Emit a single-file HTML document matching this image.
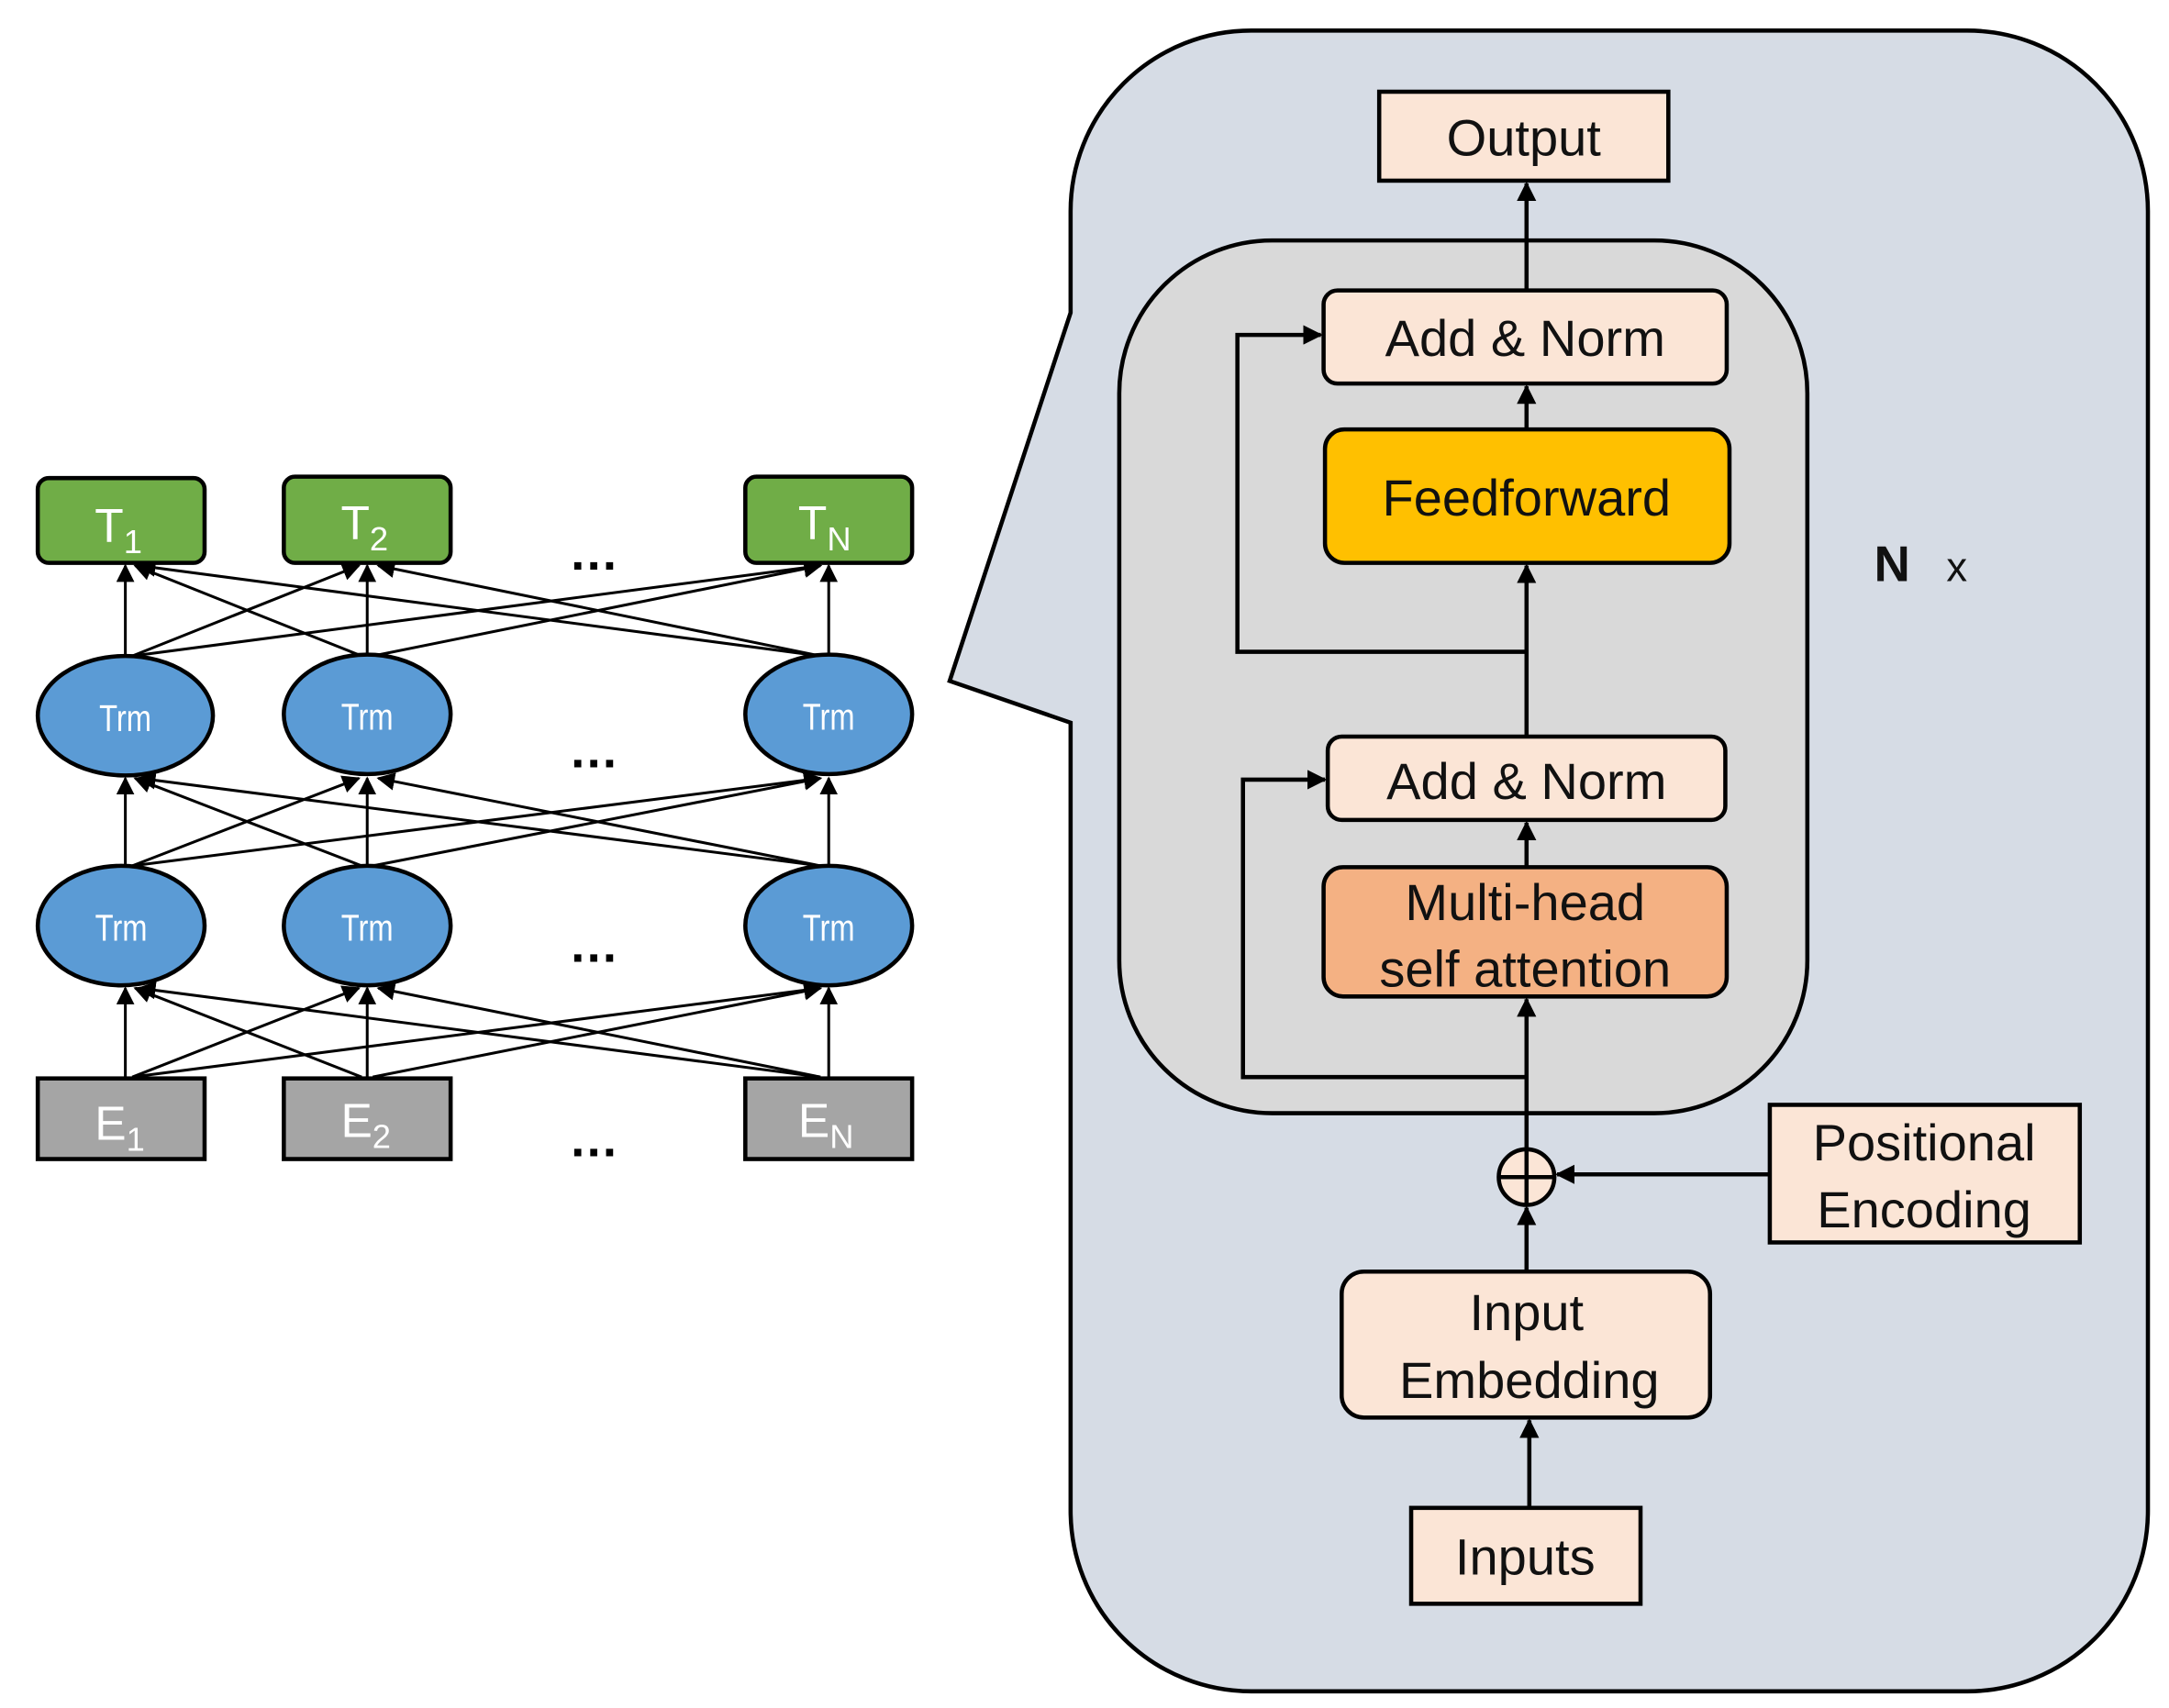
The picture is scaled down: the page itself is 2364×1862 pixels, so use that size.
<!DOCTYPE html>
<html><head><meta charset="utf-8"><style>
html,body{margin:0;padding:0;background:#fff;}
svg{display:block;}
text{font-family:"Liberation Sans",sans-serif;}
</style></head><body>
<svg width="2364" height="1862" viewBox="0 0 1560 1229" xmlns="http://www.w3.org/2000/svg">
<defs>
<marker id="a" viewBox="0 0 10 10" refX="9" refY="5" markerWidth="13" markerHeight="13" markerUnits="userSpaceOnUse" orient="auto"><path d="M0,0 L10,5 L0,10 z" fill="#000"/></marker>
<marker id="b" viewBox="0 0 10 10" refX="9" refY="5" markerWidth="14" markerHeight="14" markerUnits="userSpaceOnUse" orient="auto"><path d="M0,0 L10,5 L0,10 z" fill="#000"/></marker>
</defs>
<!-- outer callout -->
<path d="M770,152 A130,130 0 0 1 900,22 L1415,22 A130,130 0 0 1 1545,152 L1545,1087 A130,130 0 0 1 1415,1217 L900,1217 A130,130 0 0 1 770,1087 L770,520 L683,490 L770,225 Z" fill="#d6dce5" stroke="#000" stroke-width="3"/>
<rect x="805" y="173" width="495" height="628" rx="110" fill="#d9d9d9" stroke="#000" stroke-width="3"/>
<g stroke="#000" stroke-width="3" fill="none">
<line x1="1098" y1="209" x2="1098" y2="132" marker-end="url(#b)"/>
<line x1="1098" y1="309" x2="1098" y2="278" marker-end="url(#b)"/>
<line x1="1098" y1="530" x2="1098" y2="407" marker-end="url(#b)"/>
<polyline points="1098,469 890,469 890,241 950,241" marker-end="url(#b)"/>
<line x1="1098" y1="624" x2="1098" y2="592" marker-end="url(#b)"/>
<line x1="1098" y1="827" x2="1098" y2="719" marker-end="url(#b)"/>
<polyline points="1098,775 894,775 894,561 953,561" marker-end="url(#b)"/>
<line x1="1098" y1="915" x2="1098" y2="869" marker-end="url(#b)"/>
<line x1="1273" y1="845" x2="1120" y2="845" marker-end="url(#b)"/>
<line x1="1100" y1="1085" x2="1100" y2="1022" marker-end="url(#b)"/>
</g>
<circle cx="1098" cy="847" r="20" fill="#fbe5d6" stroke="#000" stroke-width="3"/>
<line x1="1078" y1="847" x2="1118" y2="847" stroke="#000" stroke-width="3"/>
<line x1="1098" y1="827" x2="1098" y2="867" stroke="#000" stroke-width="3"/>
<g stroke="#000" stroke-width="3">
<rect x="992" y="66" width="208" height="64" fill="#fbe5d6"/>
<rect x="952" y="209" width="290" height="67" rx="10" fill="#fbe5d6"/>
<rect x="953" y="309" width="291" height="96" rx="14" fill="#ffc000"/>
<rect x="955" y="530" width="286" height="60" rx="10" fill="#fbe5d6"/>
<rect x="952" y="624" width="290" height="93" rx="14" fill="#f4b183"/>
<rect x="1273" y="795" width="223" height="99" fill="#fbe5d6"/>
<rect x="965" y="915" width="265" height="105" rx="16" fill="#fbe5d6"/>
<rect x="1015" y="1085" width="165" height="69" fill="#fbe5d6"/>
</g>
<g font-size="37" fill="#111" text-anchor="middle">
<text x="1096" y="112">Output</text>
<text x="1097" y="256">Add &amp; Norm</text>
<text x="1098" y="371">Feedforward</text>
<text x="1098" y="575">Add &amp; Norm</text>
<text x="1097" y="662">Multi-head</text>
<text x="1097" y="710">self attention</text>
<text x="1384" y="835">Positional</text>
<text x="1384" y="883">Encoding</text>
<text x="1098" y="957">Input</text>
<text x="1100" y="1006">Embedding</text>
<text x="1097" y="1133">Inputs</text>
</g>
<text x="1348" y="418" font-size="36" font-weight="bold" fill="#111">N</text>
<text x="1400" y="418" font-size="30" fill="#111">x</text>

<g stroke="#000" stroke-width="2" fill="none">
<line x1="90" y1="775" x2="90" y2="711" marker-end="url(#a)"/>
<line x1="95" y1="775" x2="258" y2="711" marker-end="url(#a)"/>
<line x1="95" y1="775" x2="590" y2="711" marker-end="url(#a)"/>
<line x1="264" y1="775" x2="264" y2="711" marker-end="url(#a)"/>
<line x1="260" y1="775" x2="97" y2="711" marker-end="url(#a)"/>
<line x1="268" y1="775" x2="590" y2="711" marker-end="url(#a)"/>
<line x1="596" y1="775" x2="596" y2="711" marker-end="url(#a)"/>
<line x1="590" y1="775" x2="100" y2="711" marker-end="url(#a)"/>
<line x1="590" y1="775" x2="272" y2="711" marker-end="url(#a)"/>
<line x1="90" y1="623" x2="90" y2="560" marker-end="url(#a)"/>
<line x1="95" y1="623" x2="258" y2="560" marker-end="url(#a)"/>
<line x1="95" y1="623" x2="590" y2="560" marker-end="url(#a)"/>
<line x1="264" y1="623" x2="264" y2="560" marker-end="url(#a)"/>
<line x1="260" y1="623" x2="97" y2="560" marker-end="url(#a)"/>
<line x1="268" y1="623" x2="590" y2="560" marker-end="url(#a)"/>
<line x1="596" y1="623" x2="596" y2="560" marker-end="url(#a)"/>
<line x1="590" y1="623" x2="100" y2="560" marker-end="url(#a)"/>
<line x1="590" y1="623" x2="272" y2="560" marker-end="url(#a)"/>
<line x1="90" y1="472" x2="90" y2="407" marker-end="url(#a)"/>
<line x1="95" y1="472" x2="258" y2="407" marker-end="url(#a)"/>
<line x1="95" y1="472" x2="590" y2="407" marker-end="url(#a)"/>
<line x1="264" y1="472" x2="264" y2="407" marker-end="url(#a)"/>
<line x1="260" y1="472" x2="97" y2="407" marker-end="url(#a)"/>
<line x1="268" y1="472" x2="590" y2="407" marker-end="url(#a)"/>
<line x1="596" y1="472" x2="596" y2="407" marker-end="url(#a)"/>
<line x1="590" y1="472" x2="100" y2="407" marker-end="url(#a)"/>
<line x1="590" y1="472" x2="272" y2="407" marker-end="url(#a)"/>
</g>
<g stroke="#000" stroke-width="3">
<rect x="27" y="344" width="120" height="61" rx="8" fill="#70ad47"/>
<rect x="204" y="343" width="120" height="62" rx="8" fill="#70ad47"/>
<rect x="536" y="343" width="120" height="62" rx="8" fill="#70ad47"/>
<ellipse cx="90" cy="515" rx="63" ry="43" fill="#5b9bd5"/>
<ellipse cx="264" cy="514" rx="60" ry="43" fill="#5b9bd5"/>
<ellipse cx="596" cy="514" rx="60" ry="43" fill="#5b9bd5"/>
<ellipse cx="87" cy="666" rx="60" ry="43" fill="#5b9bd5"/>
<ellipse cx="264" cy="666" rx="60" ry="43" fill="#5b9bd5"/>
<ellipse cx="596" cy="666" rx="60" ry="43" fill="#5b9bd5"/>
<rect x="27" y="776" width="120" height="58" fill="#a5a5a5"/>
<rect x="204" y="776" width="120" height="58" fill="#a5a5a5"/>
<rect x="536" y="776" width="120" height="58" fill="#a5a5a5"/>
</g>
<g fill="#fff" font-size="34">
<text x="68" y="390">T<tspan font-size="24" dy="8">1</tspan></text>
<text x="245" y="388">T<tspan font-size="24" dy="8">2</tspan></text>
<text x="574" y="388">T<tspan font-size="24" dy="8">N</tspan></text>
<text x="68" y="820">E<tspan font-size="24" dy="8">1</tspan></text>
<text x="245" y="818">E<tspan font-size="24" dy="8">2</tspan></text>
<text x="574" y="818">E<tspan font-size="24" dy="8">N</tspan></text>
</g>
<g fill="#fff" font-size="27" text-anchor="middle" transform="scale(0.8,1)">
<text x="112.5" y="526">Trm</text>
<text x="330" y="525">Trm</text>
<text x="745" y="525">Trm</text>
<text x="108.75" y="677">Trm</text>
<text x="330" y="677">Trm</text>
<text x="745" y="677">Trm</text>
</g>
<g fill="#000" font-size="36" font-weight="bold" text-anchor="middle">
<text x="427" y="410">…</text>
<text x="427" y="552">…</text>
<text x="427" y="692">…</text>
<text x="427" y="832">…</text>
</g>
</svg>
</body></html>
